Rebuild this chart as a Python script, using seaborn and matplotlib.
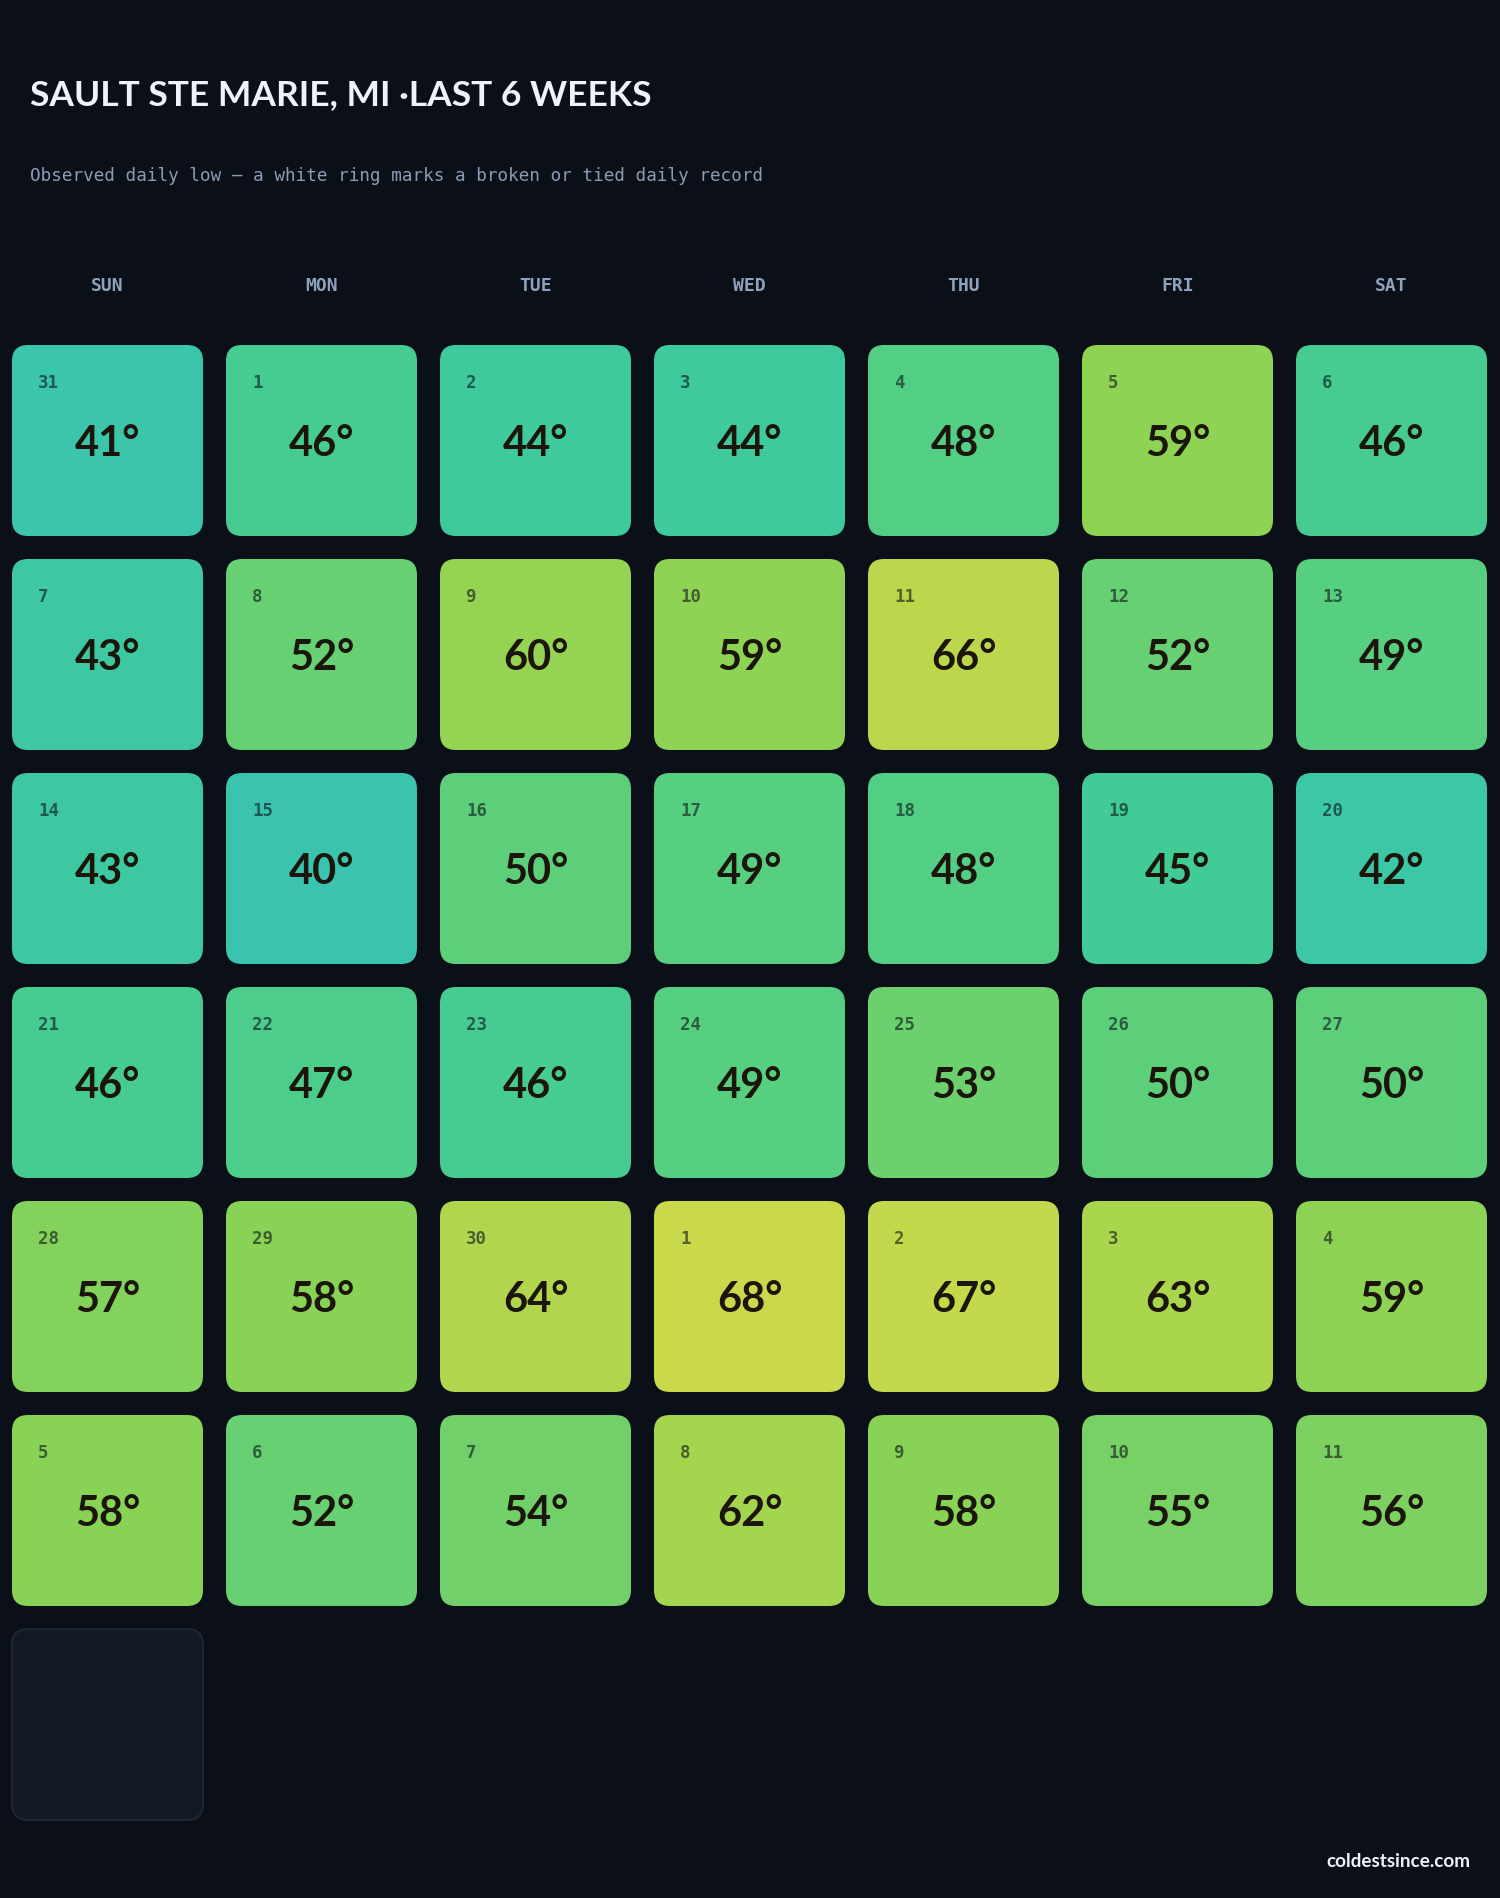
import matplotlib
matplotlib.use("Agg")
import matplotlib.pyplot as plt
import seaborn as sns
import numpy as np
from matplotlib.patches import FancyBboxPatch
from matplotlib.colors import Normalize

# ---------------- data ----------------
title = "SAULT STE MARIE, MI ·LAST 6 WEEKS"
subtitle = "Observed daily low — a white ring marks a broken or tied daily record"
footer = "coldestsince.com"
weekdays = ["SUN", "MON", "TUE", "WED", "THU", "FRI", "SAT"]

day_numbers = [31, 1, 2, 3, 4, 5, 6,
               7, 8, 9, 10, 11, 12, 13,
               14, 15, 16, 17, 18, 19, 20,
               21, 22, 23, 24, 25, 26, 27,
               28, 29, 30, 1, 2, 3, 4,
               5, 6, 7, 8, 9, 10, 11,
               12]
low_temps = [41, 46, 44, 44, 48, 59, 46,
             43, 52, 60, 59, 66, 52, 49,
             43, 40, 50, 49, 48, 45, 42,
             46, 47, 46, 49, 53, 50, 50,
             57, 58, 64, 68, 67, 63, 59,
             58, 52, 54, 62, 58, 55, 56,
             None]

scale_colors = ["#3ac4b0", "#3fcb98", "#59cf7e", "#72d06a", "#8cd353", "#acd64e", "#cad84c"]
temp_min, temp_max = 40, 68

# ---------------- style ----------------
BG = "#0b0f17"
sns.set_theme(style="dark")
plt.rcParams["font.family"] = ["Lato", "DejaVu Sans"]

cmap = sns.blend_palette(scale_colors, as_cmap=True)
norm = Normalize(temp_min, temp_max)

W, H = 1500, 1899
fig = plt.figure(figsize=(W / 100, H / 100), dpi=100, facecolor=BG)

pitch = 214.0
cell = 191.0
gap = (pitch - cell) / 2
ax_left_px = 12 - gap
ax_top_px = 346 - gap
ax = fig.add_axes([ax_left_px / W, 1 - (ax_top_px + 7 * pitch) / H, 7 * pitch / W, 7 * pitch / H])
ax.set_facecolor(BG)
ax.set_xlim(0, 7)
ax.set_ylim(7, 0)
ax.axis("off")

g = gap / pitch
s = cell / pitch
rad = 16 / pitch

for i, (d, t) in enumerate(zip(day_numbers, low_temps)):
    r, c = divmod(i, 7)
    if t is None:
        p = FancyBboxPatch((c + g, r + g), s, s,
                           boxstyle=f"round,pad=0,rounding_size={rad}",
                           facecolor="#131a24", edgecolor="#1d2734", lw=1.5)
        ax.add_patch(p)
        continue
    col = cmap(norm(t))
    p = FancyBboxPatch((c + g, r + g), s, s,
                       boxstyle=f"round,pad=0,rounding_size={rad}",
                       facecolor=col, edgecolor="none")
    ax.add_patch(p)
    ax.text(c + g + 26 / pitch, r + g + 37 / pitch, str(d),
            family="DejaVu Sans Mono", fontweight="bold", fontsize=12.5,
            color="#0b0f17", alpha=0.6, ha="left", va="center")
    ax.text(c + 0.5, r + g + 98 / pitch, f"{t}°",
            fontweight="bold", fontsize=30, color="#1c150b",
            ha="center", va="center")

for c, wd in enumerate(weekdays):
    ax.text(c + 0.5, (286 - ax_top_px) / pitch, wd, family="DejaVu Sans Mono",
            fontweight="bold", fontsize=13, color="#8ea2bd",
            ha="center", va="center", clip_on=False)

fig.text(30 / W, 1 - 105 / H, title, fontsize=25.5, fontweight="bold",
         color="#eef3fb", ha="left", va="baseline")
fig.text(30 / W, 1 - 176 / H, subtitle, family="DejaVu Sans Mono", fontsize=12.7,
         color="#8a9cb4", ha="left", va="center")
fig.text(1470 / W, 1 - 1862 / H, footer, fontsize=13.6, fontweight="bold",
         color="#eef3fb", ha="right", va="center")

fig.savefig("out.png", dpi=100, facecolor=BG)
